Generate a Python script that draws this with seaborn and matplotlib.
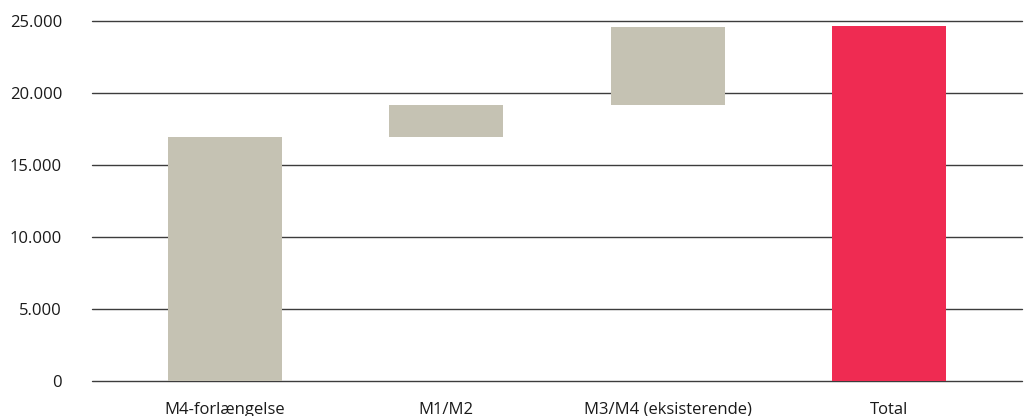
import matplotlib
matplotlib.use("Agg")
import matplotlib.pyplot as plt
import seaborn as sns
import pandas as pd
import numpy as np

# Waterfall components (number of units)
categories = ["M4-forlængelse", "M1/M2", "M3/M4 (eksisterende)", "Total"]
increments = [16950, 2200, 5400]
total = 24600
yticks = [0, 5000, 10000, 15000, 20000, 25000]
ytick_labels = ["0", "5.000", "10.000", "15.000", "20.000", "25.000"]
bar_colors = ["#C5C2B3", "#C5C2B3", "#C5C2B3", "#EF2B52"]

starts = list(np.concatenate([[0], np.cumsum(increments)[:-1]])) + [0]
heights = increments + [total]
df = pd.DataFrame({"category": categories, "start": starts, "height": heights})

sns.set_theme(style="white")
plt.rcParams["font.family"] = ["Open Sans", "DejaVu Sans"]

fig = plt.figure(figsize=(10.30, 4.16), dpi=100)
ax = fig.add_axes([0.0893, 0.0849, 0.9029, 0.8654])

sns.barplot(data=df, x="category", y="height", order=categories,
            bottom=df["start"].values, errorbar=None, width=0.515,
            color=bar_colors[0], linewidth=0, ax=ax, zorder=3)
for patch, c in zip(ax.patches, bar_colors):
    patch.set_facecolor(c)

ax.set_ylim(0, 25000)
ax.set_xlim(-0.6, 3.6)
ax.set_yticks(yticks)
ax.set_yticklabels(ytick_labels)
ax.set_axisbelow(True)
ax.yaxis.grid(True, color="#3c3c3c", linewidth=1.0)
for gl in ax.get_ygridlines():
    gl.set_clip_on(False)
for s in ax.spines.values():
    s.set_visible(False)
ax.tick_params(axis="y", length=0, pad=21.5, labelsize=12, colors="#1a1a1a")
ax.tick_params(axis="x", length=0, pad=15, labelsize=12, colors="#1a1a1a")
ax.set_xlabel("")
ax.set_ylabel("")

fig.savefig("out.png", dpi=100, facecolor="white")
